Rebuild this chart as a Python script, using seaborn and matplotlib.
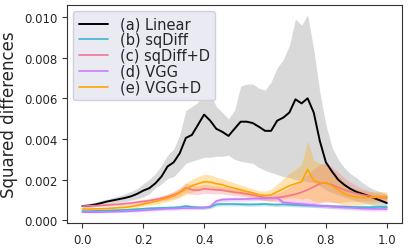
import numpy as np
from matplotlib import pyplot as plt
import seaborn as sns

sns.set_style('ticks')

# x positions (interpolation weight)
x = np.linspace(0.0, 1.0, 51)

# (a) Linear: mean and band
linear_mean = [0.00070, 0.00072, 0.00077, 0.00084, 0.00092, 0.00098, 0.00104, 0.00110, 0.00118, 0.00130,
               0.00146, 0.00158, 0.00182, 0.00215, 0.00265, 0.00285, 0.00330, 0.00405, 0.00420, 0.00470,
               0.00520, 0.00490, 0.00450, 0.00435, 0.00415, 0.00450, 0.00485, 0.00485, 0.00478, 0.00460,
               0.00440, 0.00440, 0.00490, 0.00505, 0.00530, 0.00595, 0.00575, 0.00600, 0.00530, 0.00390,
               0.00285, 0.00240, 0.00200, 0.00175, 0.00155, 0.00140, 0.00130, 0.00120, 0.00108, 0.00097,
               0.00085]
linear_hi = [0.00080, 0.00083, 0.00088, 0.00096, 0.00104, 0.00112, 0.00120, 0.00130, 0.00142, 0.00156,
             0.00180, 0.00200, 0.00230, 0.00270, 0.00320, 0.00350, 0.00420, 0.00540, 0.00560, 0.00580,
             0.00740, 0.00620, 0.00560, 0.00530, 0.00500, 0.00540, 0.00660, 0.00670, 0.00670, 0.00650,
             0.00640, 0.00680, 0.00750, 0.00790, 0.00860, 0.00990, 0.00960, 0.01010, 0.00840, 0.00630,
             0.00470, 0.00360, 0.00300, 0.00260, 0.00230, 0.00210, 0.00185, 0.00165, 0.00150, 0.00140,
             0.00130]
linear_lo = [0.00060, 0.00062, 0.00066, 0.00072, 0.00078, 0.00084, 0.00088, 0.00092, 0.00098, 0.00106,
             0.00115, 0.00130, 0.00160, 0.00180, 0.00205, 0.00215, 0.00245, 0.00280, 0.00290, 0.00300,
             0.00310, 0.00310, 0.00315, 0.00315, 0.00320, 0.00300, 0.00290, 0.00285, 0.00280, 0.00260,
             0.00245, 0.00235, 0.00225, 0.00215, 0.00210, 0.00200, 0.00195, 0.00190, 0.00185, 0.00170,
             0.00150, 0.00135, 0.00125, 0.00115, 0.00105, 0.00095, 0.00088, 0.00080, 0.00072, 0.00066,
             0.00060]

# (b) sqDiff
sqdiff_mean = [0.00045, 0.00045, 0.00046, 0.00047, 0.00048, 0.00049, 0.00050, 0.00051, 0.00053, 0.00055,
               0.00057, 0.00059, 0.00060, 0.00061, 0.00062, 0.00063, 0.00065, 0.00070, 0.00066, 0.00064,
               0.00063, 0.00065, 0.00078, 0.00080, 0.00080, 0.00080, 0.00079, 0.00078, 0.00078, 0.00079,
               0.00080, 0.00078, 0.00077, 0.00078, 0.00077, 0.00075, 0.00074, 0.00073, 0.00072, 0.00071,
               0.00070, 0.00069, 0.00068, 0.00067, 0.00066, 0.00065, 0.00065, 0.00064, 0.00065, 0.00066,
               0.00065]
sqdiff_sd = [0.00005, 0.00005, 0.00005, 0.00005, 0.00005, 0.00005, 0.00005, 0.00006, 0.00006, 0.00006,
             0.00006, 0.00007, 0.00007, 0.00007, 0.00007, 0.00008, 0.00008, 0.00009, 0.00008, 0.00008,
             0.00008, 0.00008, 0.00009, 0.00009, 0.00009, 0.00009, 0.00009, 0.00009, 0.00009, 0.00009,
             0.00009, 0.00009, 0.00009, 0.00009, 0.00009, 0.00009, 0.00009, 0.00009, 0.00009, 0.00009,
             0.00009, 0.00009, 0.00009, 0.00009, 0.00009, 0.00009, 0.00009, 0.00009, 0.00009, 0.00009,
             0.00009]

# (c) sqDiff+D
sqdiffd_mean = [0.00070, 0.00071, 0.00072, 0.00073, 0.00075, 0.00077, 0.00079, 0.00082, 0.00085, 0.00089,
                0.00093, 0.00097, 0.00102, 0.00108, 0.00115, 0.00125, 0.00138, 0.00160, 0.00150, 0.00148,
                0.00155, 0.00152, 0.00150, 0.00148, 0.00143, 0.00138, 0.00135, 0.00130, 0.00125, 0.00118,
                0.00112, 0.00110, 0.00112, 0.00115, 0.00122, 0.00128, 0.00138, 0.00150, 0.00165, 0.00180,
                0.00185, 0.00175, 0.00162, 0.00150, 0.00140, 0.00132, 0.00125, 0.00120, 0.00115, 0.00112,
                0.00110]
sqdiffd_sd = [0.00005, 0.00005, 0.00005, 0.00006, 0.00006, 0.00007, 0.00007, 0.00008, 0.00008, 0.00009,
              0.00010, 0.00011, 0.00012, 0.00013, 0.00015, 0.00017, 0.00020, 0.00024, 0.00022, 0.00022,
              0.00022, 0.00021, 0.00020, 0.00019, 0.00018, 0.00017, 0.00016, 0.00015, 0.00015, 0.00015,
              0.00016, 0.00018, 0.00022, 0.00030, 0.00040, 0.00050, 0.00062, 0.00075, 0.00088, 0.00095,
              0.00095, 0.00088, 0.00075, 0.00060, 0.00048, 0.00038, 0.00030, 0.00025, 0.00020, 0.00018,
              0.00016]

# (d) VGG
vgg_mean = [0.00040, 0.00040, 0.00040, 0.00040, 0.00041, 0.00042, 0.00043, 0.00044, 0.00045, 0.00047,
            0.00049, 0.00051, 0.00053, 0.00055, 0.00057, 0.00058, 0.00059, 0.00060, 0.00060, 0.00061,
            0.00062, 0.00068, 0.00095, 0.00102, 0.00103, 0.00104, 0.00104, 0.00105, 0.00106, 0.00107,
            0.00108, 0.00109, 0.00110, 0.00088, 0.00085, 0.00082, 0.00080, 0.00077, 0.00075, 0.00072,
            0.00070, 0.00067, 0.00065, 0.00063, 0.00062, 0.00060, 0.00058, 0.00057, 0.00056, 0.00056,
            0.00055]
vgg_sd = [0.00004, 0.00004, 0.00004, 0.00004, 0.00004, 0.00005, 0.00005, 0.00005, 0.00005, 0.00006,
          0.00006, 0.00006, 0.00007, 0.00007, 0.00007, 0.00008, 0.00008, 0.00008, 0.00008, 0.00008,
          0.00008, 0.00009, 0.00010, 0.00010, 0.00010, 0.00010, 0.00010, 0.00010, 0.00010, 0.00010,
          0.00010, 0.00010, 0.00010, 0.00010, 0.00010, 0.00010, 0.00010, 0.00010, 0.00010, 0.00010,
          0.00010, 0.00010, 0.00010, 0.00010, 0.00010, 0.00010, 0.00010, 0.00010, 0.00010, 0.00010,
          0.00010]

# (e) VGG+D
vggd_mean = [0.00055, 0.00055, 0.00056, 0.00057, 0.00058, 0.00060, 0.00062, 0.00064, 0.00068, 0.00073,
             0.00080, 0.00086, 0.00093, 0.00102, 0.00110, 0.00120, 0.00135, 0.00155, 0.00170, 0.00180,
             0.00190, 0.00188, 0.00180, 0.00175, 0.00165, 0.00158, 0.00150, 0.00142, 0.00135, 0.00125,
             0.00122, 0.00125, 0.00140, 0.00155, 0.00170, 0.00180, 0.00190, 0.00250, 0.00195, 0.00185,
             0.00185, 0.00170, 0.00150, 0.00130, 0.00120, 0.00115, 0.00112, 0.00112, 0.00112, 0.00115,
             0.00115]
vggd_sd = [0.00006, 0.00006, 0.00006, 0.00006, 0.00007, 0.00007, 0.00008, 0.00008, 0.00009, 0.00010,
           0.00011, 0.00012, 0.00014, 0.00016, 0.00018, 0.00020, 0.00024, 0.00028, 0.00032, 0.00035,
           0.00038, 0.00036, 0.00032, 0.00030, 0.00028, 0.00026, 0.00024, 0.00022, 0.00020, 0.00020,
           0.00022, 0.00028, 0.00038, 0.00050, 0.00060, 0.00070, 0.00085, 0.00140, 0.00100, 0.00095,
           0.00090, 0.00080, 0.00068, 0.00055, 0.00045, 0.00040, 0.00035, 0.00030, 0.00028, 0.00026,
           0.00025]

labels = ['(a) Linear', '(b) sqDiff', '(c) sqDiff+D', '(d) VGG', '(e) VGG+D']
colors = ['black', '#3fb5cc', '#f5758b', '#c77cff', 'orange']

fig = plt.figure(figsize=(4.09, 2.51), dpi=100)
ax = fig.add_axes([0.164, 0.108, 0.819, 0.868])

# linear has its own lower/upper band
ax.fill_between(x, linear_lo, linear_hi, color='black', alpha=0.15, linewidth=0)
sns.lineplot(x=x, y=linear_mean, color=colors[0], label=labels[0], linewidth=1.4, ax=ax)

others = [(sqdiff_mean, sqdiff_sd), (sqdiffd_mean, sqdiffd_sd), (vgg_mean, vgg_sd), (vggd_mean, vggd_sd)]
for (m, s), lab, col in zip(others, labels[1:], colors[1:]):
    m = np.array(m)
    s = np.array(s)
    ax.fill_between(x, m - s, m + s, color=col, alpha=0.3, linewidth=0)
    sns.lineplot(x=x, y=m, color=col, label=lab, linewidth=1.2, ax=ax)

ax.set_ylabel('Squared differences', fontsize=12)
ax.tick_params(labelsize=8.5, length=3.5, color='#333333')
for sp in ax.spines.values():
    sp.set_color('#333333')
ax.set_xticks([0.0, 0.2, 0.4, 0.6, 0.8, 1.0])
ax.set_yticks([0.0, 0.002, 0.004, 0.006, 0.008, 0.010])
ax.set_yticklabels(['0.000', '0.002', '0.004', '0.006', '0.008', '0.010'])

leg = ax.legend(loc='upper left', fontsize=10.5, labelspacing=0.05, borderaxespad=0.4,
                facecolor='#eaeaf2', edgecolor='#d0d0d8', framealpha=1.0)

plt.savefig('out.png', dpi=100)
